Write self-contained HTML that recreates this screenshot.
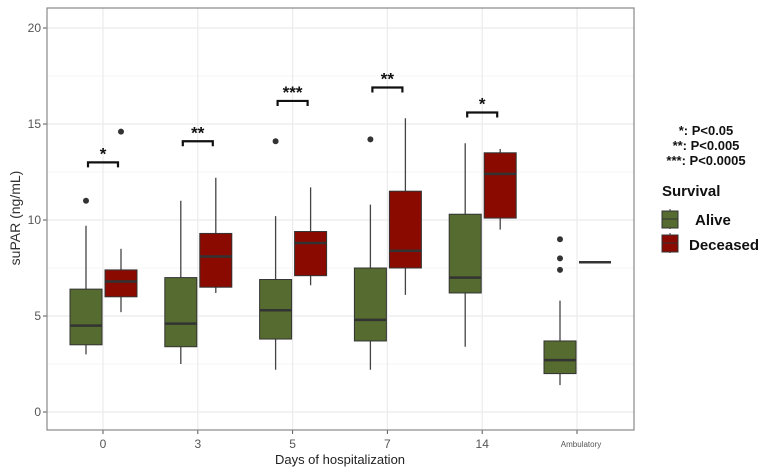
<!DOCTYPE html>
<html><head><meta charset="utf-8"><style>
body{margin:0;background:#fff;}
svg{display:block;font-family:"Liberation Sans",sans-serif;}
</style></head><body>
<svg id="chart" width="768" height="473">
<g id="grid"></g><g id="marks"></g><g id="axes"></g>
<g font-weight="bold" fill="#111">
<text x="706" y="135" font-size="13" text-anchor="middle">*: P&lt;0.05</text>
<text x="706" y="150" font-size="13" text-anchor="middle">**: P&lt;0.005</text>
<text x="706" y="165" font-size="13" text-anchor="middle">***: P&lt;0.0005</text>
<text x="662" y="196" font-size="15">Survival</text>
<g>
<line x1="670" y1="209" x2="670" y2="229" stroke="#333"/><rect x="662" y="211" width="16" height="17" fill="#556b2f" stroke="#333"/><line x1="662" y1="219" x2="678" y2="219" stroke="#333"/>
<text x="695" y="225" font-size="15">Alive</text></g>
<g>
<line x1="670" y1="233" x2="670" y2="253" stroke="#333"/><rect x="662" y="235" width="16" height="17" fill="#8b0a00" stroke="#333"/><line x1="662" y1="243" x2="678" y2="243" stroke="#333"/>
<text x="689" y="250" font-size="15">Deceased</text></g>
</g>
</svg>
<script>
const categories=["0","3","5","7","14","Ambulatory"];
const aliveStats=[[3.0,3.5,4.5,6.4,9.7],[2.5,3.4,4.6,7.0,11.0],[2.2,3.8,5.3,6.9,10.2],[2.2,3.7,4.8,7.5,10.8],[3.4,6.2,7.0,10.3,14.0],[1.4,2.0,2.7,3.7,5.8]];
const aliveOutliers=[[11.0],[],[14.1],[14.2],[],[9.0,8.0,7.4]];
const deceasedStats=[[5.2,6.0,6.8,7.4,8.5],[6.2,6.5,8.1,9.3,12.2],[6.6,7.1,8.8,9.4,11.7],[6.1,7.5,8.4,11.5,15.3],[9.5,10.1,12.4,13.5,13.7],[7.8,7.8,7.8,7.8,7.8]];
const deceasedOutliers=[[14.6],[],[],[],[],[]];
const sigLevels=[13.0,14.1,16.2,16.9,15.6,null];
const sigLabels=["*","**","***","**","*",""];
const yTicks=[0,5,10,15,20];
const NS="http://www.w3.org/2000/svg";
const L=47,R=634,T=8,B=430;
const y=v=>412-19.2*v;
const x=i=>103+i*94.8;
function mk(p,tag,a){const e=document.createElementNS(NS,tag);for(const k in a)e.setAttribute(k,a[k]);p.appendChild(e);return e;}
const grid=document.getElementById('grid'),marks=document.getElementById('marks'),axes=document.getElementById('axes');
let bg=mk(grid,'rect',{x:L,y:T,width:R-L,height:B-T,fill:'#fff'});


for(let v=-2.5;v<=22.5;v+=2.5){const yy=y(v);if(yy<T||yy>B)continue;mk(grid,'line',{x1:L,x2:R,y1:yy,y2:yy,stroke:'#ebebeb','stroke-width':v%5===0?1.2:0.6});}
categories.forEach((c,i)=>mk(grid,'line',{x1:x(i),x2:x(i),y1:T,y2:B,stroke:'#ebebeb','stroke-width':1.2}));
yTicks.forEach(v=>{
 const t=mk(axes,'text',{x:41,y:y(v)+4,'font-size':12,'text-anchor':'end',fill:'#555'});t.textContent=v;
 
 
 mk(axes,'line',{x1:43,x2:L,y1:y(v),y2:y(v),stroke:'#555'});
});
categories.forEach((c,i)=>{
 const amb=c==="Ambulatory";
 const t=mk(axes,'text',{x:x(i)+(amb?4:0),y:amb?447:448,'font-size':amb?8:12,'text-anchor':'middle',fill:'#555'});t.textContent=c;
 
 
 mk(axes,'line',{x1:x(i),x2:x(i),y1:B,y2:B+4,stroke:'#555'});
});
const fr=mk(axes,'rect',{x:L,y:T,width:R-L,height:B-T,fill:'none',stroke:'#888','stroke-width':1.2});


let yt=mk(axes,'text',{x:0,y:0,'font-size':14,'text-anchor':'middle',fill:'#333',transform:'translate(20,218) rotate(-90)'});yt.textContent='suPAR (ng/mL)';


let xt=mk(axes,'text',{x:340,y:464,'font-size':13,'text-anchor':'middle',fill:'#222'});xt.textContent='Days of hospitalization';


function box(cx,s,out,fill,name){
 const g=mk(marks,'g',{});
 
 
 if(s[0]===s[4]){mk(g,'line',{x1:cx-16,x2:cx+16,y1:y(s[2]),y2:y(s[2]),stroke:'#333','stroke-width':2.5});return;}
 mk(g,'line',{x1:cx,x2:cx,y1:y(s[0]),y2:y(s[4]),stroke:'#444','stroke-width':1.3});
 mk(g,'rect',{x:cx-16,y:y(s[3]),width:32,height:y(s[1])-y(s[3]),fill:fill,stroke:'#333','stroke-width':1});
 mk(g,'line',{x1:cx-16,x2:cx+16,y1:y(s[2]),y2:y(s[2]),stroke:'#333','stroke-width':2.5});
 out.forEach(o=>mk(g,'circle',{cx:cx,cy:y(o),r:3,fill:'#333'}));
}
categories.forEach((c,i)=>{
 box(x(i)-17,aliveStats[i],aliveOutliers[i],'#556b2f','box-alive-'+c);
 box(x(i)+18,deceasedStats[i],deceasedOutliers[i],'#8b0a00','box-deceased-'+c);
 if(sigLevels[i]!==null){
  const yy=y(sigLevels[i]);
  const b=mk(marks,'path',{d:`M${x(i)-15} ${yy+5}V${yy}H${x(i)+15}V${yy+5}`,fill:'none',stroke:'#111','stroke-width':2.2});
  
  
  const t=mk(marks,'text',{x:x(i),y:yy-3,'font-size':17,'font-weight':'bold','text-anchor':'middle',fill:'#111'});t.textContent=sigLabels[i];
  
  
 }
});
</script>
</body></html>
